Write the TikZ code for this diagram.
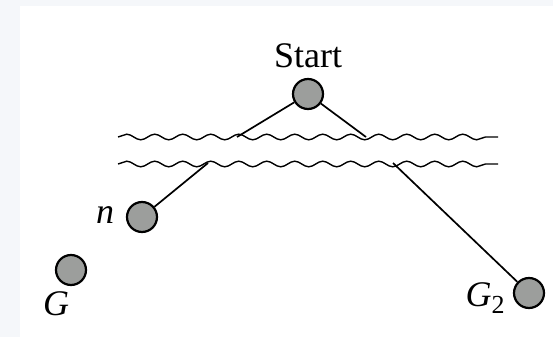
\documentclass[tikz,border=0pt]{standalone}
\usepackage{fontspec}
\setmainfont{Liberation Serif}
\usetikzlibrary{decorations.pathmorphing}
\definecolor{pagebg}{HTML}{F5F7FA}
\definecolor{nodegray}{HTML}{9C9E9C}
\tikzset{
  x=1pt, y=-1pt,
  state/.style={circle, draw=black, line width=2.2pt, fill=nodegray, minimum size=30pt, inner sep=0pt},
  lbl/.style={font=\fontsize{36}{40}\selectfont, inner sep=0pt, anchor=base},
  edge/.style={line width=1.7pt},
  wave/.style={line width=1.4pt, decorate, decoration={snake, segment length=28pt, amplitude=2.8pt}}
}
\begin{document}
\begin{tikzpicture}
\useasboundingbox (0,0) rectangle (553,337);
\fill[pagebg] (0,0) rectangle (553,337);
\fill[white] (20,6) rectangle (553,337);
% wavy lines
\coordinate (w1a) at (118,137);
\coordinate (w1b) at (498,137);
\coordinate (w2a) at (118,164);
\coordinate (w2b) at (498,164);
\draw[wave] (w1a) -- (w1b);
\draw[wave] (w2a) -- (w2b);
% nodes
\node[state] (start) at (308,94) {};
\node[state] (n) at (142,217) {};
\node[state] (g) at (71,270) {};
\node[state] (g2) at (529,293) {};
% labels
\node[lbl] (startlbl) at (308,67) {Start};
\node[lbl] (nlbl) at (105,223) {\textit{n}};
\node[lbl] (glbl) at (56,315) {\textit{G}};
\node[lbl] (g2lbl) at (485,306) {\textit{G}\raisebox{-7pt}{\fontsize{26}{28}\selectfont 2}};
% connectors
\coordinate (c1) at (237,137);
\coordinate (c2) at (366,137);
\coordinate (c3) at (208,163);
\coordinate (c4) at (393,163);
\draw[edge] (start) -- (c1);
\draw[edge] (start) -- (c2);
\draw[edge] (c3) -- (n);
\draw[edge] (c4) -- (g2);
\end{tikzpicture}
\end{document}
